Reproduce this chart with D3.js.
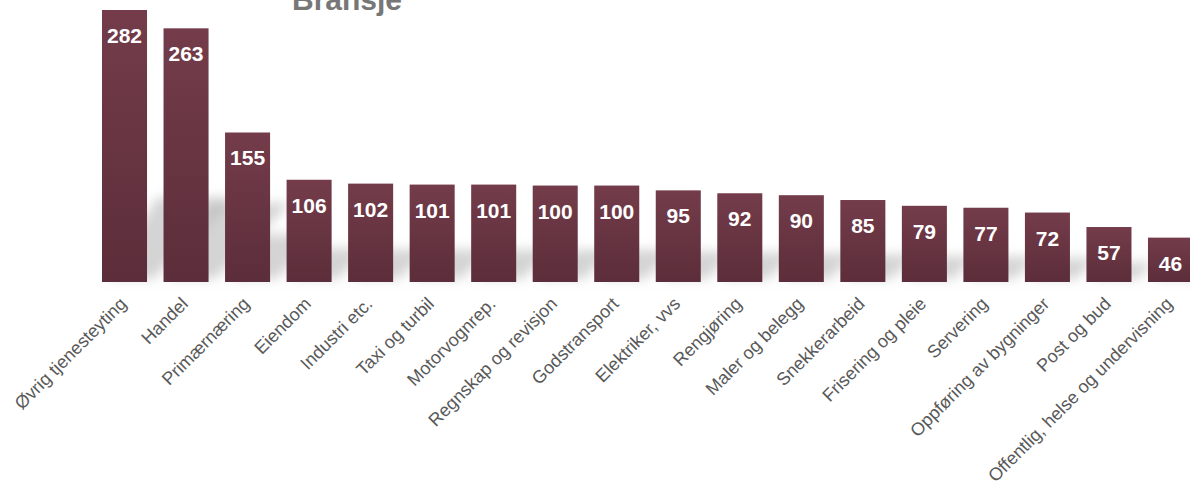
<!DOCTYPE html>
<html lang="no">
	<head>
		<meta charset="utf-8">
		<title>Bransje</title>
		<script type="text/javascript" src="https://cdn.jsdelivr.net/npm/d3@7"></script>
		<style type="text/css">
			body { margin: 0; background: #fff; }
			svg { display: block; }
			text { font-family: "Liberation Sans", Arial, sans-serif; }
			.val { font-size: 21px; font-weight: bold; fill: #fff; text-anchor: middle; }
			.cat { font-size: 18px; fill: #595959; text-anchor: end; }
			.title { font-size: 30px; font-weight: bold; fill: #777; text-anchor: middle; }
		</style>
	</head>
	<body>
		<script type="text/javascript">

			var w = 1190;
			var h = 487;

			// Bransjer og antall
			var categories = ["Øvrig tjenesteyting", "Handel", "Primærnæring", "Eiendom",
							  "Industri etc.", "Taxi og turbil", "Motorvognrep.", "Regnskap og revisjon",
							  "Godstransport", "Elektriker, vvs", "Rengjøring", "Maler og belegg",
							  "Snekkerarbeid", "Frisering og pleie", "Servering", "Oppføring av bygninger",
							  "Post og bud", "Offentlig, helse og undervisning"];
			var values = [282, 263, 155, 106, 102, 101, 101, 100, 100, 95, 92, 90, 85, 79, 77, 72, 57, 46];

			var svg = d3.select("body")
						.append("svg")
						.attr("width", w)
						.attr("height", h);

			var defs = svg.append("defs");

			var grad = defs.append("linearGradient")
				.attr("id", "barGrad")
				.attr("x1", 0).attr("y1", 0)
				.attr("x2", 0).attr("y2", 1);
			grad.append("stop").attr("offset", "0%").attr("stop-color", "#743c4a");
			grad.append("stop").attr("offset", "100%").attr("stop-color", "#5c2d3a");

			defs.append("filter")
				.attr("id", "blur")
				.attr("x", "-50%").attr("y", "-50%")
				.attr("width", "200%").attr("height", "200%")
				.append("feGaussianBlur")
				.attr("stdDeviation", 6);

			// first bar at 102, step ~61.5, bar width 45
			var x = d3.scaleBand()
				.domain(categories)
				.range([102, 102 + 61.53 * (categories.length - 1) + 45])
				.paddingInner(16.5 / 61.53)
				.paddingOuter(0);

			var y = d3.scaleLinear()
				.domain([0, 282])
				.range([282, 10]);

			// shadows cast on the floor
			svg.append("g")
				.attr("filter", "url(#blur)")
				.selectAll("path")
				.data(values)
				.enter()
				.append("path")
				.attr("d", function(d, i) {
					var x0 = x(categories[i]) + 6;
					var bw = x.bandwidth();
					var rise = (y(0) - y(d)) * 0.3;
					var b = y(0) - 3;
					return "M" + x0 + "," + b +
						"L" + (x0 + bw) + "," + b +
						"L" + (x0 + bw + rise) + "," + (b - rise) +
						"L" + (x0 + rise * 0.6) + "," + (b - rise) + "Z";
				})
				.attr("fill", "#a0a0a0")
				.attr("opacity", 0.45);

			svg.selectAll("rect.bar")
				.data(values)
				.enter()
				.append("rect")
				.attr("class", "bar")
				.attr("x", function(d, i) { return x(categories[i]); })
				.attr("y", function(d) { return y(d); })
				.attr("width", x.bandwidth())
				.attr("height", function(d) { return y(0) - y(d); })
				.attr("fill", "url(#barGrad)");

			svg.selectAll("text.val")
				.data(values)
				.enter()
				.append("text")
				.attr("class", "val")
				.attr("x", function(d, i) { return x(categories[i]) + x.bandwidth() / 2; })
				.attr("y", function(d) { return y(d) + 33; })
				.text(function(d) { return d; });

			svg.selectAll("text.cat")
				.data(categories)
				.enter()
				.append("text")
				.attr("class", "cat")
				.attr("transform", function(d) {
					var cx = x(d) + x.bandwidth() / 2 + 3;
					return "translate(" + cx + ",305) rotate(-45)";
				})
				.text(function(d) { return d; });

			svg.append("text")
				.attr("class", "title")
				.attr("x", 347)
				.attr("y", 10)
				.text("Bransje");

		</script>
	</body>
</html>
